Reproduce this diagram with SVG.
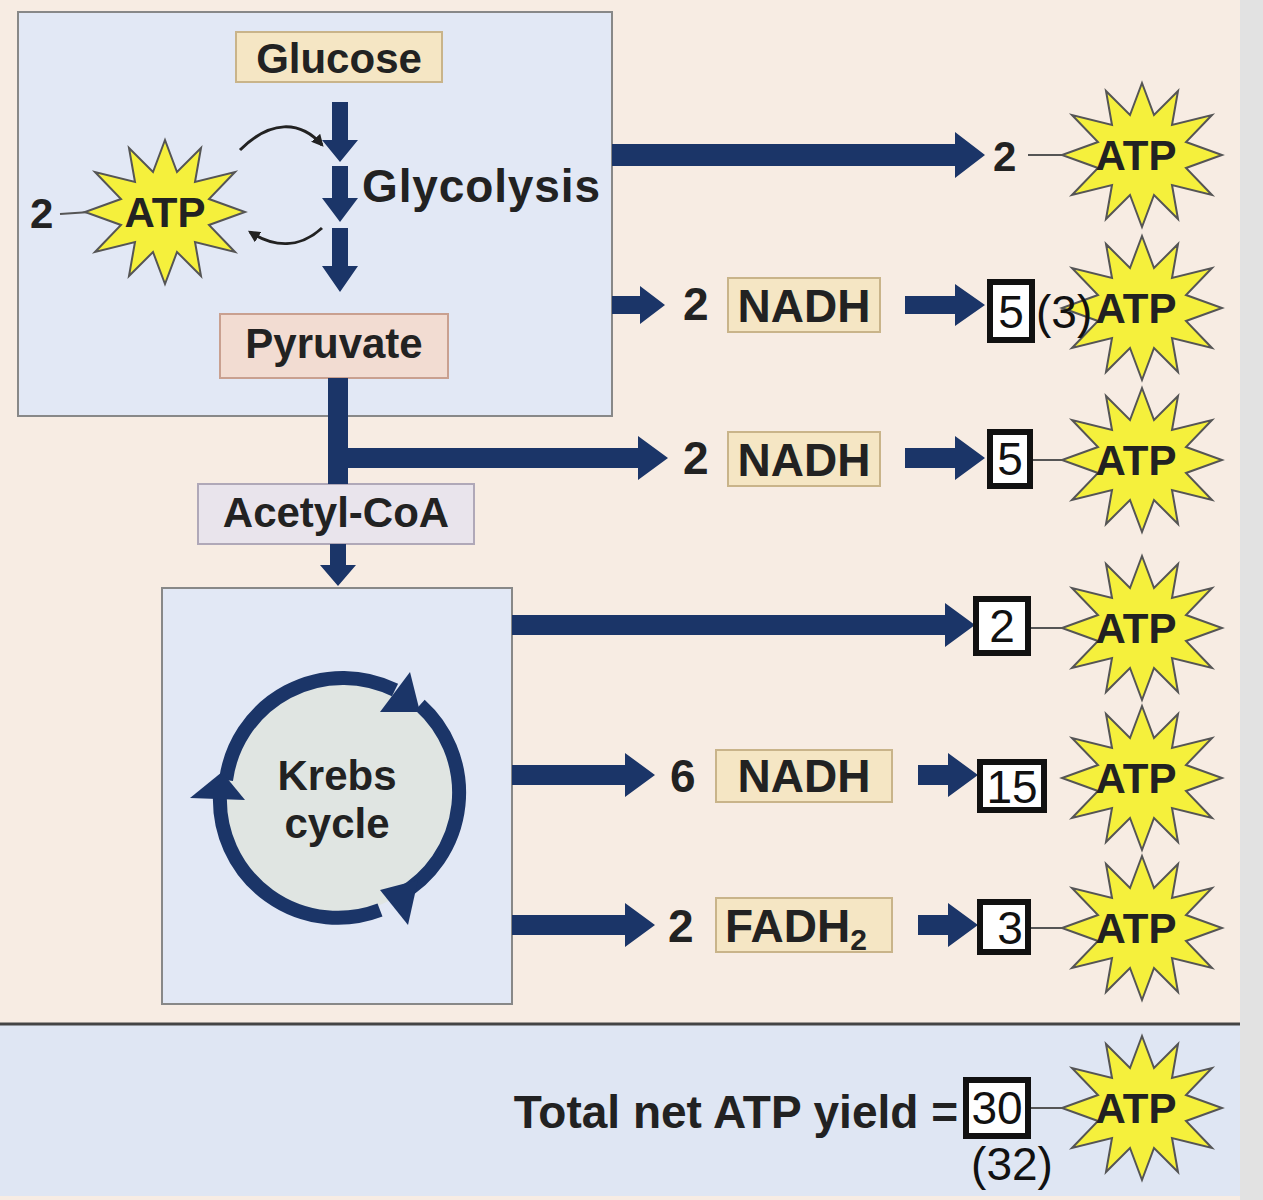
<svg xmlns="http://www.w3.org/2000/svg" width="1263" height="1200" viewBox="0 0 1263 1200">
<style>
.t{font-family:"Liberation Sans",Arial,sans-serif;font-weight:bold;font-size:46px;fill:#222}
.s{font-size:42px}
.n{font-family:"Liberation Sans",Arial,sans-serif;font-size:46px;fill:#111}
.a{fill:#1b3568}
.star{fill:#f5f03c;stroke:#555;stroke-width:2}
.lb{stroke:#c9b48a;stroke-width:2}
.nb{fill:#fff;stroke:#111;stroke-width:6}
</style>
<defs>
<path id="star" d="M0,-72 L12,-40 L36,-64 L30,-30 L70,-40 L44,-13 L80,0 L44,13 L70,40 L30,30 L36,64 L12,40 L0,72 L-12,40 L-36,64 L-30,30 L-70,40 L-44,13 L-80,0 L-44,-13 L-70,-40 L-30,-30 L-36,-64 L-12,-40 Z"/>
<marker id="sm" viewBox="0 0 10 10" refX="8" refY="5" markerWidth="4" markerHeight="4" orient="auto"><path d="M0,0 L10,5 L0,10 Z" fill="#222"/></marker>
</defs>
<rect width="1263" height="1200" fill="#f7ece3"/>
<rect x="1240" y="0" width="23" height="1200" fill="#e2e2e2"/>
<rect x="0" y="1024" width="1240" height="172" fill="#dfe6f3"/>
<line x1="0" y1="1024" x2="1240" y2="1024" stroke="#444" stroke-width="3"/>

<g id="glycolysis-box">
<rect x="18" y="12" width="594" height="404" fill="#e2e8f5" stroke="#888" stroke-width="2"/>
<text class="t" x="362" y="202" textLength="238">Glycolysis</text>
</g>
<g id="glucose"><rect x="236" y="32" width="206" height="50" fill="#f5e6c4" class="lb"/><text class="t s" x="339" y="73" text-anchor="middle">Glucose</text></g>
<g id="pyruvate"><rect x="220" y="314" width="228" height="64" fill="#f2dcd2" stroke="#c9a090" stroke-width="2"/><text class="t s" x="334" y="358" text-anchor="middle">Pyruvate</text></g>
<g id="acetyl"><rect x="198" y="484" width="276" height="60" fill="#e9e4ec" stroke="#b0a8b8" stroke-width="2"/><text class="t s" x="336" y="527" text-anchor="middle">Acetyl-CoA</text></g>
<g id="krebs-box">
<rect x="162" y="588" width="350" height="416" fill="#e2e8f5" stroke="#888" stroke-width="2"/>
<circle cx="337" cy="795" r="118" fill="#e0e5e2"/>
<path d="M226,780 A118,118 0 0 1 395,690" fill="none" stroke="#1b3568" stroke-width="14"/>
<path d="M420,705 A118,118 0 0 1 400,895" fill="none" stroke="#1b3568" stroke-width="14"/>
<path d="M380,910 A118,118 0 0 1 220,795" fill="none" stroke="#1b3568" stroke-width="14"/>
<polygon class="a" points="410,672 420,712 380,712"/>
<polygon class="a" points="380,890 418,880 408,925"/>
<polygon class="a" points="190,798 222,772 245,800"/>
<text class="t s" x="337" y="790" text-anchor="middle">Krebs</text>
<text class="t s" x="337" y="838" text-anchor="middle">cycle</text>
</g>
<g id="left-atp">
<text class="t s" x="30" y="228">2</text>
<line x1="60" y1="214" x2="90" y2="212" stroke="#555" stroke-width="2"/>
<use href="#star" class="star" transform="translate(165,212)"/>
<text class="t s" x="165" y="227" text-anchor="middle">ATP</text>
<path d="M240,150 C270,120 300,120 322,145" fill="none" stroke="#222" stroke-width="3" marker-end="url(#sm)"/>
<path d="M322,228 C300,248 275,248 250,232" fill="none" stroke="#222" stroke-width="3" marker-end="url(#sm)"/>
</g>
<g id="connectors">
<polygon class="a" points="332,102 348,102 348,140 358,140 340,162 322,140 332,140"/>
<polygon class="a" points="332,166 348,166 348,198 358,198 340,222 322,198 332,198"/>
<polygon class="a" points="332,228 348,228 348,266 358,266 340,292 322,266 332,266"/>
<polygon class="a" points="612,144 955,144 955,132 985,155 955,178 955,166 612,166"/>
<polygon class="a" points="612,296 640,296 640,286 665,305 640,324 640,314 612,314"/>
<polygon class="a" points="905,296 955,296 955,284 985,305 955,326 955,314 905,314"/>
<polygon class="a" points="328,378 348,378 348,448 638,448 638,436 668,458 638,480 638,468 348,468 348,484 328,484"/>
<polygon class="a" points="905,448 955,448 955,436 985,458 955,480 955,468 905,468"/>
<polygon class="a" points="330,544 346,544 346,565 356,565 338,586 320,565 330,565"/>
<polygon class="a" points="512,615 945,615 945,603 975,625 945,647 945,635 512,635"/>
<polygon class="a" points="512,765 625,765 625,753 655,775 625,797 625,785 512,785"/>
<polygon class="a" points="918,765 948,765 948,753 978,775 948,797 948,785 918,785"/>
<polygon class="a" points="512,915 625,915 625,903 655,925 625,947 625,935 512,935"/>
<polygon class="a" points="918,915 948,915 948,903 978,925 948,947 948,935 918,935"/>
</g>
<g id="row1"><text class="t s" x="993" y="171">2</text><line x1="1028" y1="155" x2="1062" y2="155" stroke="#555" stroke-width="2"/><use href="#star" class="star" transform="translate(1142,155)"/><text class="t s" x="1136" y="170" text-anchor="middle">ATP</text></g>
<g id="row2"><text class="t" x="683" y="320">2</text><rect x="728" y="278" width="152" height="54" fill="#f5e6c4" class="lb"/><text class="t" x="804" y="322" text-anchor="middle">NADH</text>
<use href="#star" class="star" transform="translate(1142,308)"/><text class="t s" x="1136" y="323" text-anchor="middle">ATP</text>
<rect x="990" y="282" width="42" height="58" class="nb"/><text class="n" x="1011" y="328" text-anchor="middle">5</text><text class="n" x="1036" y="328" font-size="38">(3)</text></g>
<g id="row3"><text class="t" x="683" y="474">2</text><rect x="728" y="432" width="152" height="54" fill="#f5e6c4" class="lb"/><text class="t" x="804" y="476" text-anchor="middle">NADH</text>
<use href="#star" class="star" transform="translate(1142,460)"/><text class="t s" x="1136" y="475" text-anchor="middle">ATP</text>
<line x1="1032" y1="460" x2="1065" y2="460" stroke="#555" stroke-width="2"/>
<rect x="990" y="432" width="40" height="54" class="nb"/><text class="n" x="1010" y="475" text-anchor="middle">5</text></g>
<g id="row4"><use href="#star" class="star" transform="translate(1142,628)"/><text class="t s" x="1136" y="643" text-anchor="middle">ATP</text>
<line x1="1030" y1="628" x2="1065" y2="628" stroke="#555" stroke-width="2"/>
<rect x="976" y="599" width="52" height="54" class="nb"/><text class="n" x="1002" y="642" text-anchor="middle">2</text></g>
<g id="row5"><text class="t" x="670" y="792">6</text><rect x="716" y="750" width="176" height="52" fill="#f5e6c4" class="lb"/><text class="t" x="804" y="792" text-anchor="middle">NADH</text>
<use href="#star" class="star" transform="translate(1142,778)"/><text class="t s" x="1136" y="793" text-anchor="middle">ATP</text>
<rect x="980" y="762" width="64" height="48" class="nb"/><text class="n" x="1012" y="803" text-anchor="middle" font-size="40">15</text></g>
<g id="row6"><text class="t" x="668" y="942">2</text><rect x="716" y="898" width="176" height="54" fill="#f5e6c4" class="lb"/><text class="t" x="796" y="942" text-anchor="middle">FADH<tspan font-size="30" dy="8">2</tspan></text>
<use href="#star" class="star" transform="translate(1142,928)"/><text class="t s" x="1136" y="943" text-anchor="middle">ATP</text>
<line x1="1030" y1="928" x2="1065" y2="928" stroke="#555" stroke-width="2"/>
<rect x="980" y="902" width="48" height="50" class="nb"/><text class="n" x="1010" y="944" text-anchor="middle">3</text></g>
<g id="total"><text class="t" x="958" y="1128" text-anchor="end">Total net ATP yield =</text>
<use href="#star" class="star" transform="translate(1142,1108)"/><text class="t s" x="1136" y="1123" text-anchor="middle">ATP</text>
<line x1="1030" y1="1108" x2="1065" y2="1108" stroke="#555" stroke-width="2"/>
<rect x="966" y="1080" width="62" height="56" class="nb"/><text class="n" x="997" y="1124" text-anchor="middle">30</text>
<text class="n" x="1012" y="1180" text-anchor="middle" font-size="40">(32)</text></g>
</svg>
